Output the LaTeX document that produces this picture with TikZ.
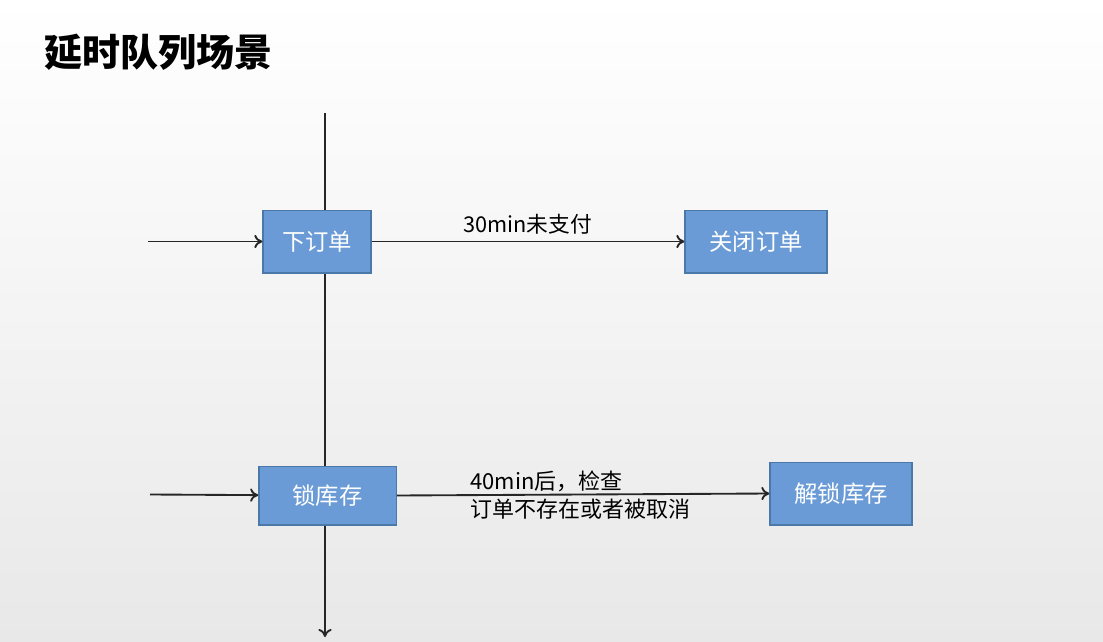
\documentclass[tikz,border=0pt]{standalone}
\usepackage{fontspec}
\newfontfamily\cjk{Noto Sans CJK SC}
\usetikzlibrary{arrows.meta}

\tikzset{
  box/.style={draw=boxline, fill=boxfill, text=white, font=\cjk\fontsize{17.5}{20}\selectfont,
    line width=1pt, inner sep=0pt},
  line/.style={line width=1.4pt, draw=black!85},
  tip/.style={-{To[length=6pt,width=10pt]}}
}
\definecolor{boxfill}{HTML}{6A9BD6}
\definecolor{boxline}{HTML}{4A78A8}

\begin{document}
\begin{tikzpicture}[x=0.75pt,y=-0.75pt]
  \shade[top color=white, bottom color=black!9] (0,0) rectangle (1103,642);
  \useasboundingbox (0,0) rectangle (1103,642);

  \node[font=\cjk\bfseries\fontsize{28.5}{32}\selectfont, anchor=west, inner sep=0pt] (title) at (44,52) {延时队列场景};

  \coordinate (top) at (325,113);
  \coordinate (bottom) at (325,637);
  \draw[line,tip] (top) -- (bottom);

  \node[box, minimum width=81pt, minimum height=47pt] (order) at (317,241.5) {下订单};
  \node[box, minimum width=106.5pt, minimum height=47pt] (close) at (756,241.5) {关闭订单};
  \node[box, minimum width=103pt, minimum height=44pt] (lock) at (327.5,495.5) {锁库存};
  \node[box, minimum width=106.5pt, minimum height=47pt] (unlock) at (841,493.5) {解锁库存};

  \coordinate (in1) at (148,241.5);
  \coordinate (in2) at (150,494.5);
  \draw[line,tip] (in1) -- (order);
  \draw[line,tip] (in2) -- (lock);

  \draw[line,tip] (order) -- (close);
  \node[font=\cjk\fontsize{16.3}{18}\selectfont, anchor=west, inner sep=0pt] (lbl1) at (463,224) {30min未支付};

  \draw[line,tip] (lock.east) -- (unlock.west);
  \node[font=\cjk\fontsize{16.5}{21}\selectfont, align=left, anchor=west, inner sep=0pt] (lbl2) at (470,495)
    {40min后，检查\\订单不存在或者被取消};
\end{tikzpicture}
\end{document}
